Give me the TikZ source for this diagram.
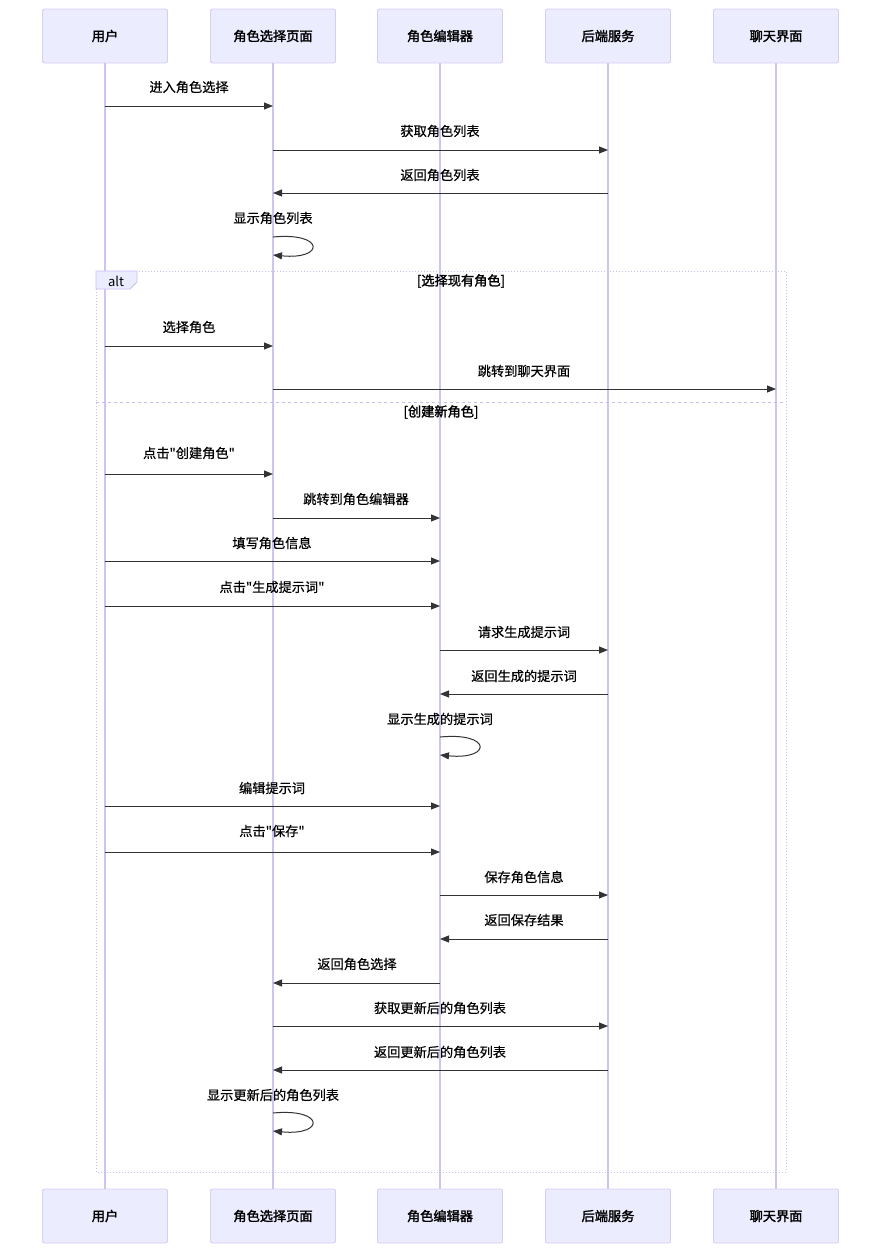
\documentclass[tikz,border=0pt]{standalone}
\usepackage{fontspec}
\setmainfont[Ligatures=TeXOff]{Noto Sans CJK SC}
\newfontfamily\cjkbold[Ligatures=TeXOff,FakeBold=2]{Noto Sans CJK SC}
\newfontfamily\cjkmed[Ligatures=TeXOff,FakeBold=0.6]{Noto Sans CJK SC}
\usetikzlibrary{arrows.meta}
\definecolor{actF}{RGB}{236,236,255}
\definecolor{actB}{RGB}{214,204,246}
\definecolor{lifeC}{RGB}{206,196,242}
\definecolor{msgC}{RGB}{51,51,51}
\definecolor{altB}{RGB}{200,190,240}
\tikzset{
  actor/.style={draw=actB, fill=actF, rounded corners=2pt, minimum width=125pt, minimum height=54pt, line width=0.9pt, font=\cjkbold\fontsize{13.2}{15}\selectfont, inner sep=0pt},
  life/.style={draw=lifeC, line width=1.2pt},
  msg/.style={draw=msgC, line width=1pt, -{Triangle[length=9pt,width=7pt]}},
  mlabel/.style={font=\cjkmed\fontsize{13.2}{15}\selectfont, text=black, inner sep=0pt},
  altbox/.style={draw=altB, dotted, line width=1pt},
  sep/.style={draw=altB, dash pattern=on 3pt off 3pt, line width=1pt},
  altlab/.style={font=\fontsize{13}{15}\selectfont, text=black, inner sep=0pt},
  grouplab/.style={font=\cjkbold\fontsize{13.2}{15}\selectfont, text=black, inner sep=0pt},
}
\begin{document}
\begin{tikzpicture}[x=1pt,y=-1pt]
\useasboundingbox (0,0) rectangle (881,1253);
% actors
\node[actor] (u)  at (105,36) {用户};
\node[actor] (s)  at (273,36) {角色选择页面};
\node[actor] (e)  at (440,36) {角色编辑器};
\node[actor] (b)  at (608,36) {后端服务};
\node[actor] (c)  at (776,36) {聊天界面};
\node[actor] (ub) at (105,1216) {用户};
\node[actor] (sb) at (273,1216) {角色选择页面};
\node[actor] (eb) at (440,1216) {角色编辑器};
\node[actor] (bb) at (608,1216) {后端服务};
\node[actor] (cb) at (776,1216) {聊天界面};
% lifelines
\draw[life] (u.south) -- (ub.north);
\draw[life] (s.south) -- (sb.north);
\draw[life] (e.south) -- (eb.north);
\draw[life] (b.south) -- (bb.north);
\draw[life] (c.south) -- (cb.north);
% alt frame
\draw[altbox] (96,271) rectangle (786,1172);
\draw[draw=altB, fill=actF, line width=0.8pt] (96,271) -- (137,271) -- (137,282) -- (130,289) -- (96,289) -- cycle;
\node[altlab] (altt) at (116,281) {alt};
\node[grouplab] (g1) at (461,281) {[选择现有角色]};
\draw[sep] (96,402) -- (786,402);
\node[grouplab] (g2) at (441,412) {[创建新角色]};
% messages
\node[mlabel] (l1) at (189,87) {进入角色选择};
\draw[msg] (u |- 0,106) -- (s |- 0,106);
\node[mlabel] (l2) at (440,131) {获取角色列表};
\draw[msg] (s |- 0,150) -- (b |- 0,150);
\node[mlabel] (l3) at (440,175) {返回角色列表};
\draw[msg] (b |- 0,193) -- (s |- 0,193);
\node[mlabel] (l4) at (273,218) {显示角色列表};
\draw[msg] (s |- 0,237) .. controls (325,232) and (325,260) .. (s |- 0,255);
\node[mlabel] (l5) at (189,327) {选择角色};
\draw[msg] (u |- 0,346) -- (s |- 0,346);
\node[mlabel] (l6) at (524,371) {跳转到聊天界面};
\draw[msg] (s |- 0,389) -- (c |- 0,389);
\node[mlabel] (l7) at (189,453) {点击"创建角色"};
\draw[msg] (u |- 0,474) -- (s |- 0,474);
\node[mlabel] (l8) at (356,499) {跳转到角色编辑器};
\draw[msg] (s |- 0,518) -- (e |- 0,518);
\node[mlabel] (l9) at (272,543) {填写角色信息};
\draw[msg] (u |- 0,561) -- (e |- 0,561);
\node[mlabel] (l10) at (272,587) {点击"生成提示词"};
\draw[msg] (u |- 0,606) -- (e |- 0,606);
\node[mlabel] (l11) at (524,632) {请求生成提示词};
\draw[msg] (e |- 0,650) -- (b |- 0,650);
\node[mlabel] (l12) at (524,676) {返回生成的提示词};
\draw[msg] (b |- 0,694) -- (e |- 0,694);
\node[mlabel] (l13) at (440,719) {显示生成的提示词};
\draw[msg] (e |- 0,737) .. controls (492,732) and (492,760) .. (e |- 0,755);
\node[mlabel] (l14) at (272,788) {编辑提示词};
\draw[msg] (u |- 0,806) -- (e |- 0,806);
\node[mlabel] (l15) at (272,831) {点击"保存"};
\draw[msg] (u |- 0,852) -- (e |- 0,852);
\node[mlabel] (l16) at (524,877) {保存角色信息};
\draw[msg] (e |- 0,895) -- (b |- 0,895);
\node[mlabel] (l17) at (524,920) {返回保存结果};
\draw[msg] (b |- 0,939) -- (e |- 0,939);
\node[mlabel] (l18) at (357,964) {返回角色选择};
\draw[msg] (e |- 0,983) -- (s |- 0,983);
\node[mlabel] (l19) at (440,1008) {获取更新后的角色列表};
\draw[msg] (s |- 0,1026) -- (b |- 0,1026);
\node[mlabel] (l20) at (440,1052) {返回更新后的角色列表};
\draw[msg] (b |- 0,1070) -- (s |- 0,1070);
\node[mlabel] (l21) at (273,1095) {显示更新后的角色列表};
\draw[msg] (s |- 0,1113) .. controls (325,1108) and (325,1136) .. (s |- 0,1131);
\end{tikzpicture}
\end{document}
